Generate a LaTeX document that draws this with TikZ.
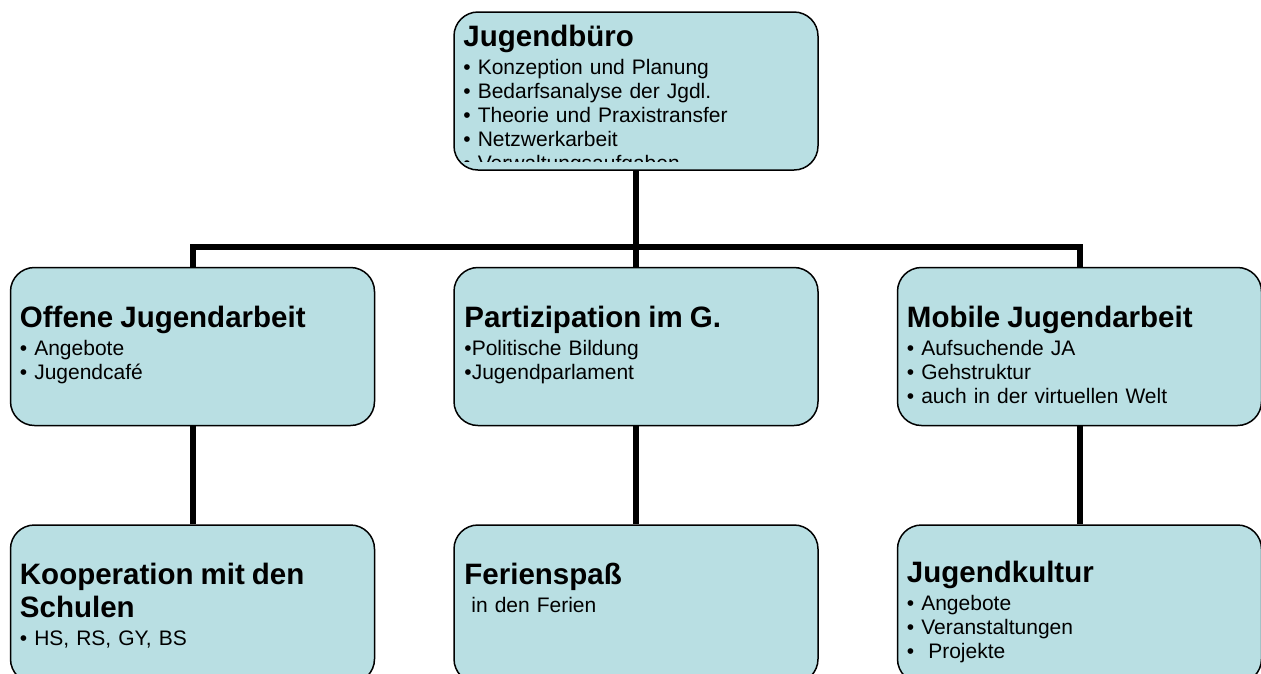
\documentclass[tikz,border=0pt]{standalone}
\usepackage{fontspec}
\setmainfont{Liberation Sans}
\usetikzlibrary{positioning,calc}
\definecolor{boxblue}{RGB}{185,223,227}
\newcommand{\titlefont}{\fontsize{29.5}{33}\selectfont\bfseries}
\newcommand{\itemfont}{\fontsize{21}{24}\selectfont}
\newcommand{\boxhead}[1]{{\titlefont #1\par}\vspace{4pt}}
\setlength{\parindent}{0pt}

\begin{document}
\begin{tikzpicture}[x=1pt, y=-1pt, inner sep=0pt,
		orgbox/.style={draw=black, line width=1.5pt, fill=boxblue, rounded corners=24pt,
			minimum width=364pt, minimum height=158pt},
		boxtext/.style={anchor=north west, align=left, text width=340pt, font=\itemfont},
		link/.style={line width=6pt}]
		\useasboundingbox (0,0) rectangle (1261,673);
		\node[orgbox](jb) at (636,91) {};
		\node[orgbox](pg)[below=96pt of jb]{};
		\node[orgbox](oja)[left=78pt of pg]{};
		\node[orgbox](mja)[right=78pt of pg]{};
		\node[orgbox](kms)[below=98pt of oja]{};
		\node[orgbox](fs)[below=98pt of pg]{};
		\node[orgbox](jk)[below=98pt of mja]{};
		\begin{scope}
			\clip (jb.north west) rectangle ($(jb.south east)+(0,-9)$);
			\node[boxtext](jbt) at ($(jb.north west)+(10,14)$)
			{\boxhead{Jugendbüro}• Konzeption und Planung\\• Bedarfsanalyse der Jgdl.\\
				• Theorie und Praxistransfer\\• Netzwerkarbeit\\• Verwaltungsaufgaben};
		\end{scope}
		\node[boxtext](ojat) at ($(oja.north west)+(10,39)$)
		{\boxhead{Offene Jugendarbeit}• Angebote\\• Jugendcafé};
		\node[boxtext](pgt) at ($(pg.north west)+(11,39)$)
		{\boxhead{Partizipation im G.}•Politische Bildung\\•Jugendparlament};
		\node[boxtext](mjat) at ($(mja.north west)+(10,39)$)
		{\boxhead{Mobile Jugendarbeit}• Aufsuchende JA\\• Gehstruktur\\• auch in der virtuellen Welt};
		\node[boxtext](kmst) at ($(kms.north west)+(10,39)$)
		{\boxhead{Kooperation mit den\\Schulen}• HS, RS, GY, BS};
		\node[boxtext](fst) at ($(fs.north west)+(11,39)$)
		{\boxhead{Ferienspaß}~in den Ferien};
		\node[boxtext](jkt) at ($(jk.north west)+(10,37)$)
		{\boxhead{Jugendkultur}• Angebote\\• Veranstaltungen\\•~ Projekte};
		\coordinate (bar) at ($(jb.south)+(0,76)$);
		\draw[link] (jb.south) -- (bar);
		\draw[link] (oja.north) |- (bar) -| (mja.north);
		\draw[link] (bar) -- (pg.north);
		\draw[link] (oja.south) -- (kms.north);
		\draw[link] (pg.south) -- (fs.north);
		\draw[link] (mja.south) -- (jk.north);
	\end{tikzpicture}
\end{document}
